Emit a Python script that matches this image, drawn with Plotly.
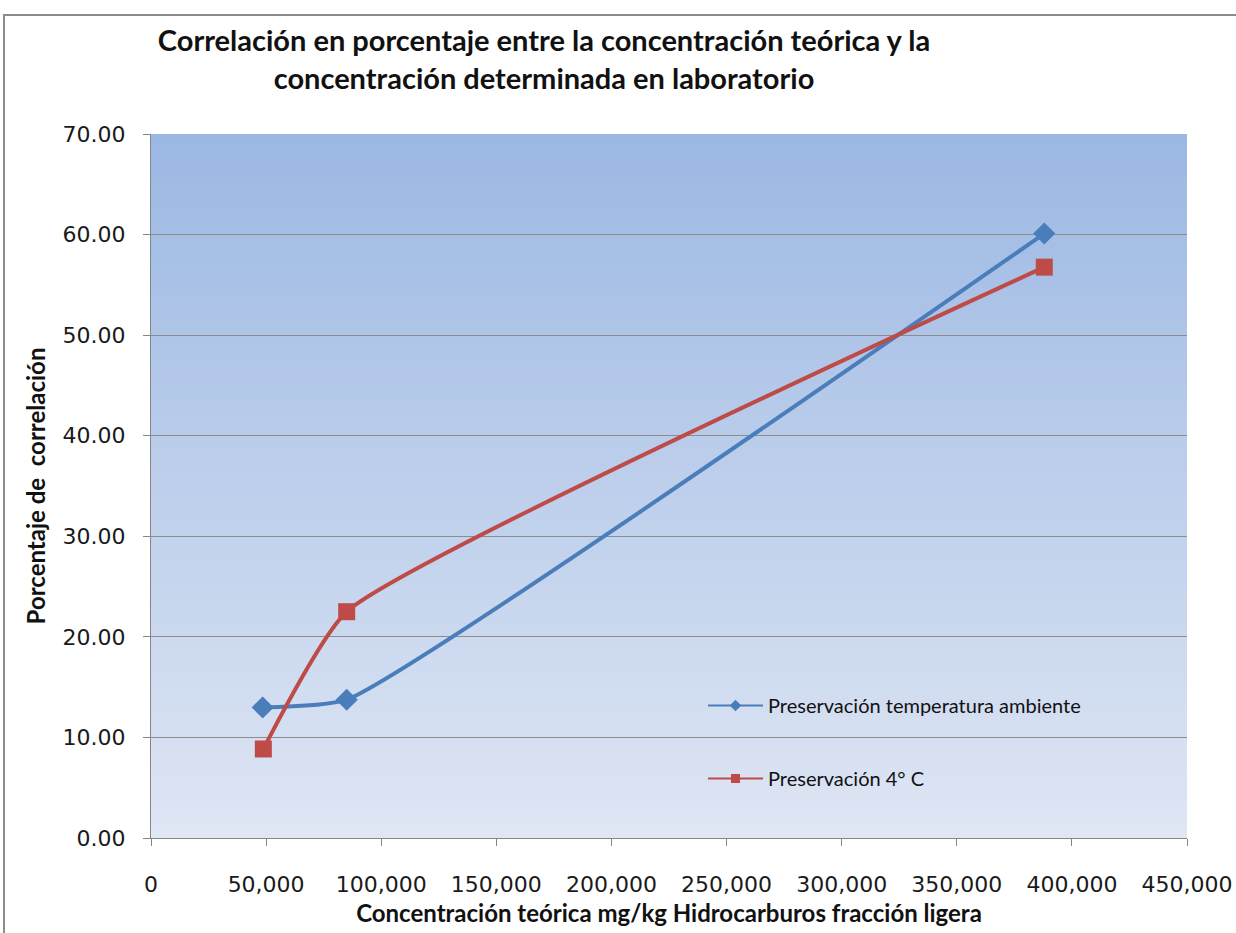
import plotly.graph_objects as go

# Data
series_names = ["Preservación temperatura ambiente", "Preservación 4° C"]
x_amb = [48500, 85000, 388000]
y_amb = [12.98, 13.75, 60.1]
x_4c = [48800, 85000, 388000]
y_4c = [8.85, 22.5, 56.76]

x_ticks = [0, 50000, 100000, 150000, 200000, 250000, 300000, 350000, 400000, 450000]
y_ticks = [0, 10, 20, 30, 40, 50, 60, 70]

W, H = 1236, 933
L, R, T, B = 151, 49, 134, 95
BLUE, RED = "#4A7EBB", "#BE4B48"

fig = go.Figure()
fig.add_trace(go.Scatter(
    x=x_amb, y=y_amb, name=series_names[0], mode="lines+markers",
    line=dict(color=BLUE, width=4, shape="spline", smoothing=0.45),
    marker=dict(symbol="diamond", size=17, color=BLUE),
    showlegend=False))
fig.add_trace(go.Scatter(
    x=x_4c, y=y_4c, name=series_names[1], mode="lines+markers",
    line=dict(color=RED, width=4, shape="spline", smoothing=0.45),
    marker=dict(symbol="square", size=17, color=RED),
    showlegend=False))
# legend entries (small markers like the original legend)
fig.add_trace(go.Scatter(
    x=[None], y=[None], name=series_names[0], mode="lines+markers",
    line=dict(color=BLUE, width=2), marker=dict(symbol="diamond", size=9, color=BLUE),
    legendgroup="a"))
fig.add_trace(go.Scatter(
    x=[None], y=[None], name=series_names[1], mode="lines+markers",
    line=dict(color=RED, width=2), marker=dict(symbol="square", size=9, color=RED),
    legendgroup="b"))

# gradient background for the plot area
shapes = []
n = 70
top = (155, 184, 227)
bot = (223, 230, 244)
for i in range(n):
    t = i / (n - 1)
    c = tuple(round(top[k] + (bot[k] - top[k]) * t) for k in range(3))
    shapes.append(dict(type="rect", xref="x domain", yref="y domain",
                       x0=0, x1=1, y0=max(0, 1 - (i + 1.6) / n), y1=1 - i / n,
                       fillcolor="rgb(%d,%d,%d)" % c, line=dict(width=0),
                       layer="below"))
# outer chart border
shapes.append(dict(type="rect", xref="paper", yref="paper",
                   x0=(4 - L) / (W - L - R), x1=(W + 10 - L) / (W - L - R),
                   y0=-0.5, y1=1 + (T - 15) / (H - T - B),
                   line=dict(color="#8C8C8C", width=2), fillcolor="rgba(0,0,0,0)",
                   layer="above"))

tick_font = dict(family="DejaVu Sans, sans-serif", size=22, color="#1a1a1a")
bold_font = "Lato, sans-serif"

fig.update_layout(
    width=W, height=H,
    margin=dict(l=L, r=R, t=T, b=B, autoexpand=False),
    paper_bgcolor="white",
    plot_bgcolor="rgba(0,0,0,0)",
    shapes=shapes,
    title=dict(text="Correlación en porcentaje entre la concentración teórica y la<br>concentración determinada en laboratorio",
               x=544 / W, xref="container", xanchor="center",
               y=1 - 51 / H, yref="container", yanchor="middle",
               font=dict(family=bold_font, size=29, color="#111111", weight="bold")),
    xaxis=dict(range=[0, 450000], tickvals=x_ticks, tickformat=",d",
               showgrid=False, zeroline=False, showline=True, linecolor="#868686",
               ticks="outside", ticklen=7, tickcolor="#868686",
               tickfont=tick_font, ticklabelstandoff=20, automargin=False,
               title=dict(text="Concentración teórica mg/kg Hidrocarburos fracción ligera",
                          font=dict(family=bold_font, size=24, color="#111111", weight="bold"),
                          standoff=8)),
    yaxis=dict(range=[0, 70], tickvals=y_ticks, tickformat=".2f",
               showgrid=True, gridcolor="#8C8C8C", gridwidth=1, zeroline=False,
               showline=True, linecolor="#868686",
               ticks="outside", ticklen=7, tickcolor="#868686",
               tickfont=tick_font, ticklabelstandoff=13, automargin=False,
               title=dict(text="Porcentaje de  correlación",
                          font=dict(family=bold_font, size=24, color="#111111", weight="bold"),
                          standoff=10)),
    legend=dict(x=(703 - L) / (W - L - R), y=1 - (686 - T) / (H - T - B),
                xanchor="left", yanchor="top", itemwidth=55,
                bgcolor="rgba(0,0,0,0)", tracegroupgap=44,
                font=dict(family=bold_font, size=20, color="#111111")),
    showlegend=True,
)

fig.write_html("out.html", config={"displayModeBar": False},
               post_script="document.body.style.margin='0';")
